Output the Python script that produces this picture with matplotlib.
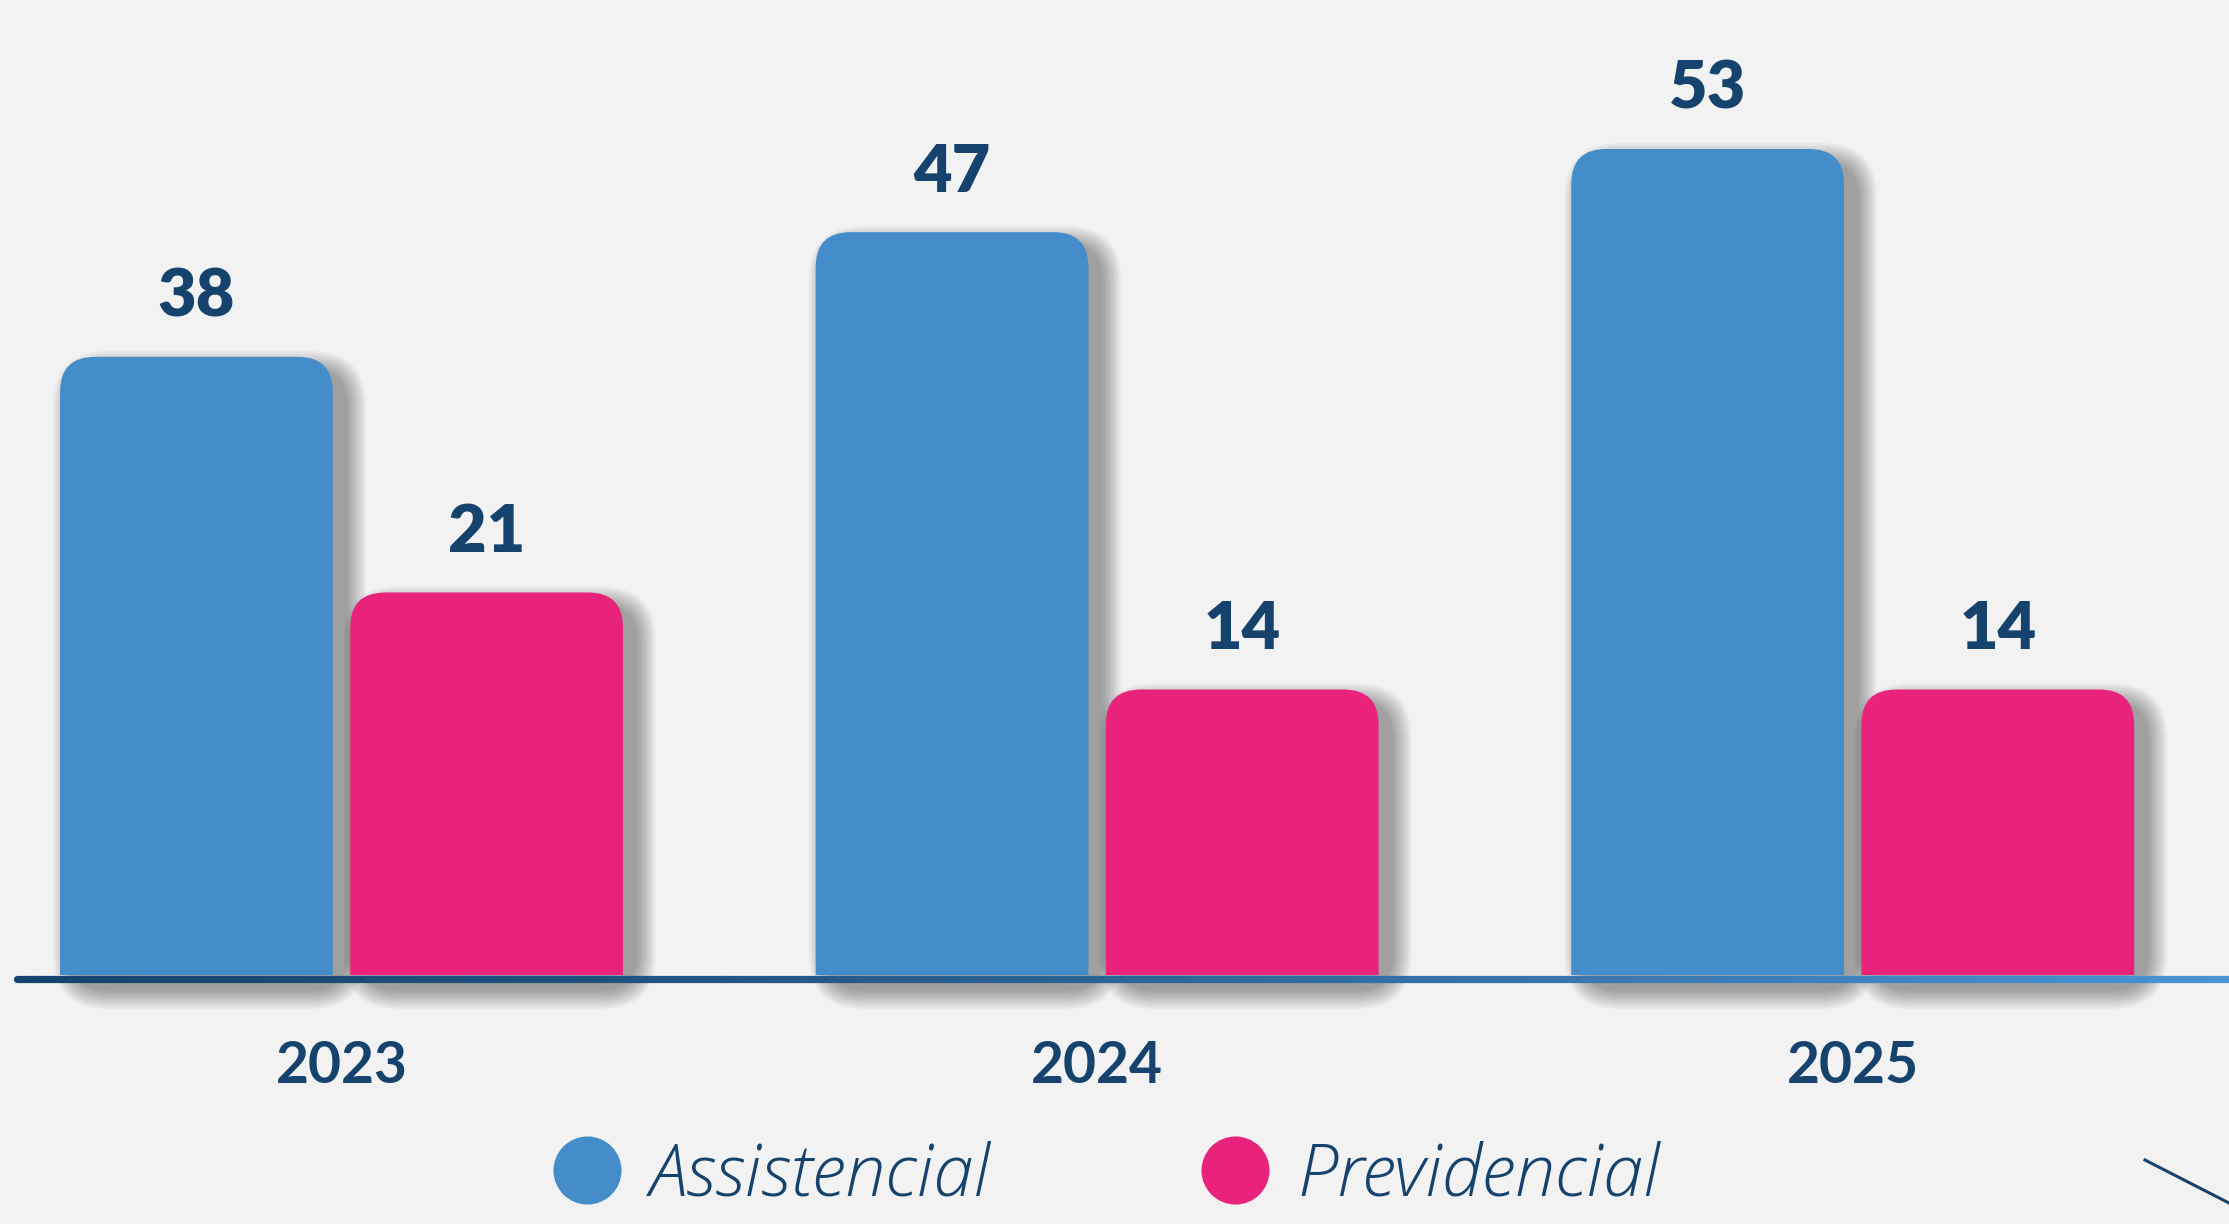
import matplotlib
matplotlib.use("Agg")
import numpy as np
import matplotlib.pyplot as plt
from matplotlib.patches import FancyBboxPatch
from matplotlib.collections import LineCollection
from matplotlib.lines import Line2D
from matplotlib.colors import to_rgb

plt.rcParams["font.family"] = ["Lato", "DejaVu Sans"]

# ─────────────────────────────────────────────
#  Dados
# ─────────────────────────────────────────────
anos = ["2023", "2024", "2025"]
assistencial = [38, 47, 53]
previdencial = [21, 14, 14]
series = ["Assistencial", "Previdencial"]

CORES = {
    "Assistencial": "#448dca",
    "Previdencial": "#e9237b",
    "texto":        "#16436d",
    "fundo":        "#f1f2f1",
    "linha_ini":    "#17446e",
    "linha_fim":    "#4b93d3",
}

# ─────────────────────────────────────────────
#  Layout (pixels da arte original)
# ─────────────────────────────────────────────
W, H, DPI = 2229, 1224, 100
PISO = -6.6            # base visual do eixo fica abaixo do zero
TOPO = 63.75
XLIM = (-0.452, 2.498)
LARG = 0.361           # largura de cada barra
DESLOC = 0.192         # distância do centro do grupo ao centro da barra
RAIO = 35              # raio dos cantos (px)

fig = plt.figure(figsize=(W / DPI, H / DPI), dpi=DPI)
fig.patch.set_facecolor(CORES["fundo"])
ax = fig.add_axes([0, 249 / H, 1, 975 / H])
ax.set_facecolor(CORES["fundo"])
ax.set_xlim(*XLIM)
ax.set_ylim(PISO, TOPO)

# conversão px -> unidades de dado
px_x = (XLIM[1] - XLIM[0]) / W
px_y = (TOPO - PISO) / 975
aspecto = px_y / px_x


def sombra(x0, topo, camadas=12, dx=13, dy=14, espalha=20):
    """Sombra difusa (para a direita e para baixo) com caixas translúcidas."""
    for i in range(camadas):
        e = espalha * (i + 1) / camadas
        ex, ey = e * px_x, e * px_y
        p = FancyBboxPatch(
            (x0 + dx * px_x - ex, PISO - dy * px_y - ey),
            LARG + 2 * ex, topo - PISO + 2 * ey,
            boxstyle=f"round,pad=0,rounding_size={(RAIO + e) * px_x}",
            mutation_aspect=aspecto, fc="black", ec="none",
            alpha=0.03, zorder=1, clip_on=False,
        )
        ax.add_patch(p)


def barra(x0, topo, cor):
    # estende abaixo do piso: cantos de baixo ficam cortados pelo eixo
    extra = 3 * RAIO * px_y
    p = FancyBboxPatch(
        (x0, PISO - extra), LARG, topo - PISO + extra,
        boxstyle=f"round,pad=0,rounding_size={RAIO * px_x}",
        mutation_aspect=aspecto, fc=cor, ec="none", zorder=2,
    )
    ax.add_patch(p)


x = np.arange(len(anos))
for i in x:
    for nome, vals, sinal in [("Assistencial", assistencial, -1),
                              ("Previdencial", previdencial, 1)]:
        xc = i + sinal * DESLOC
        v = vals[i]
        sombra(xc - LARG / 2, v)
        barra(xc - LARG / 2, v, CORES[nome])
        ax.annotate(str(v), xy=(xc, v), xytext=(0, 29),
                    textcoords="offset points", ha="center", va="baseline",
                    fontsize=48, fontweight="heavy", color=CORES["texto"],
                    zorder=5)

# linha de base com degradê
xs = np.linspace(XLIM[0] + 17 * px_x, XLIM[1], 300)
ys = np.full_like(xs, PISO - 3.5 * px_y)
pts = np.array([xs, ys]).T.reshape(-1, 1, 2)
segs = np.concatenate([pts[:-1], pts[1:]], axis=1)
t = np.linspace(0, 1, len(segs)) ** 1.3
c0, c1 = np.array(to_rgb(CORES["linha_ini"])), np.array(to_rgb(CORES["linha_fim"]))
cores_lin = c0 + (c1 - c0) * t[:, None]
lc = LineCollection(segs, colors=cores_lin, linewidths=5.2,
                    capstyle="round", zorder=4, clip_on=False)
ax.add_collection(lc)

# eixos
ax.set_xticks(x, anos, fontsize=41, fontweight="bold", color=CORES["texto"])
ax.tick_params(axis="x", length=0, pad=47)
ax.set_yticks([])
for s in ax.spines.values():
    s.set_visible(False)

# legenda
handles = [Line2D([], [], ls="none", marker="o", ms=49,
                  mfc=CORES[s], mec="none") for s in series]
fig.legend(handles, series, loc="center",
           bbox_to_anchor=(1107 / W, 1 - 1177 / H), ncol=2, frameon=False,
           handlelength=0.94, handletextpad=0.4, columnspacing=2.9,
           prop=dict(family="Open Sans", style="italic", weight="light", size=52),
           labelcolor=CORES["texto"])

# traço decorativo no canto
fig.add_artist(Line2D([2145 / W, 1], [1 - 1160 / H, 1 - 1203 / H],
                      transform=fig.transFigure, color=CORES["texto"], lw=2.2))

fig.savefig("out.png", dpi=DPI, facecolor=fig.get_facecolor())
plt.close("all")
